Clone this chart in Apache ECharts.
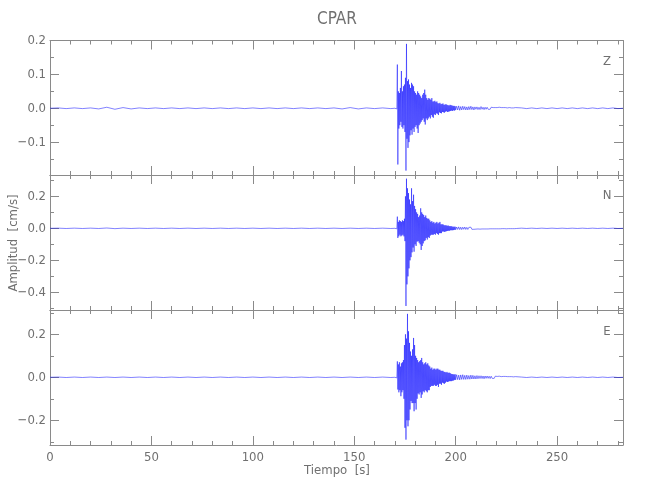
<!DOCTYPE html>
<html>
<head>
<meta charset="utf-8">
<script src="https://cdn.jsdelivr.net/npm/echarts@6/dist/echarts.min.js"></script>
<style>html,body{margin:0;padding:0;background:#fff}#c{width:650px;height:500px}</style>
</head>
<body>
<div id="c"></div>
<script>
// ---- axis ranges & ticks ----
const timeMax = 282.5;
const xMajorTicks = [0, 50, 100, 150, 200, 250];
const xMinorTicks = [10,20,30,40,60,70,80,90,110,120,130,140,160,170,180,190,210,220,230,240,260,270,280];
const channelNames = ['Z', 'N', 'E'];
const zRange = [-0.197, 0.2], zMajor = [0.2, 0.1, 0, -0.1], zMinor = [0.15, 0.05, -0.05, -0.15];
const nRange = [-0.51, 0.333], nMajor = [0.2, 0, -0.2, -0.4], nMinor = [0.3, 0.1, -0.1, -0.3, -0.5];
const eRange = [-0.315, 0.313], eMajor = [0.2, 0, -0.2], eMinor = [0.3, 0.1, -0.1, -0.3];

// ---- sampling of the traces (start time, step in s) ----
const preStart = 0, preStep = 4;
const actStart = 170, actStep = 0.25;
const tailStart = 200.5, tailStep = 0.5;
const endStart = 232.5, endStep = 2.5;

// ---- Z component (cm/s) ----
const zPre = [0,0.001,-0.001,0.001,-0.001,0.001,-0.002,0.003,-0.003,0.002,
  -0.002,0.001,-0.001,0.001,-0.001,0.001,-0.001,0.001,-0.001,0.001,
  -0.001,0.001,-0.001,0.001,-0.001,0.001,-0.001,0.001,-0.001,0.001,
  -0.001,0.001,-0.001,0.001,-0.001,0.001,-0.002,0.002,-0.002,0.001,
  -0.001,0.001,-0.001];
const zAct = [0,0.001,-0.001,0.002,-0.002,0.129,-0.166,0.05,-0.06,0.045,
  -0.05,0.06,-0.04,0.11,-0.055,0.05,-0.06,0.065,-0.05,0.07,
  -0.07,0.09,-0.184,0.19,-0.09,0.08,-0.117,0.085,-0.1,0.07,
  -0.08,0.06,-0.065,0.075,-0.078,0.07,-0.06,0.065,-0.07,0.05,
  -0.055,0.045,-0.05,0.04,-0.06,0.05,-0.073,0.045,-0.05,0.04,
  -0.045,0.035,-0.04,0.03,-0.035,0.04,-0.03,0.045,-0.04,0.055,
  -0.048,0.04,-0.03,0.03,-0.035,0.025,-0.03,0.03,-0.025,0.028,
  -0.03,0.025,-0.02,0.03,-0.025,0.02,-0.028,0.02,-0.018,0.022,
  -0.02,0.018,-0.015,0.02,-0.016,0.015,-0.02,0.014,-0.012,0.016,
  -0.014,0.012,-0.015,0.013,-0.011,0.014,-0.012,0.01,-0.013,0.011,
  -0.01,0.012,-0.009,0.01,-0.011,0.009,-0.01,0.008,-0.009,0.01,
  -0.008,0.009,-0.007,0.008,-0.008,0.007,-0.006,0.007,-0.007,0.006,
  -0.005];
const zTail = [0.006,-0.005,0.007,-0.006,0.005,-0.005,0.006,-0.004,0.005,-0.005,
  0.004,-0.005,0.005,-0.004,0.006,-0.004,0.004,-0.005,0.004,-0.003,
  0.004,-0.004,0.003,-0.004,0.005,-0.003,0.003,-0.004,0.003,-0.003,
  0.003,-0.003,0.002,-0.003,0.003,-0.002,0.002,-0.003,0.002,-0.002,
  0.002,-0.002,0.003,-0.002,0.002,-0.002,0.002,-0.001,0.002,-0.002,
  0.001,-0.002,0.002,-0.001,0.001,-0.002,0.001,-0.001,0.002,-0.001];
const zEnd = [0.001,-0.001,0.001,-0.001,0.001,-0.001,0.001,-0.001,0.001,-0.001,
  0.001,-0.001,0.001,-0.001,0.001,-0.001,0.001,-0.001,0.001,-0.001,0];

// ---- N component (cm/s) ----
const nPre = [0,0.001,-0.001,0.001,-0.001,0.001,-0.001,0.002,-0.002,0.001,
  -0.001,0.001,-0.001,0.001,-0.001,0.001,-0.001,0.001,-0.001,0.001,
  -0.001,0.001,-0.001,0.001,-0.001,0.001,-0.001,0.001,-0.001,0.001,
  -0.001,0.001,-0.001,0.001,-0.001,0.001,-0.001,0.001,-0.001,0.001,
  -0.001,0.001,-0.001];
const nAct = [0,0.002,-0.002,0.003,-0.003,0.073,-0.06,0.04,-0.05,0.05,
  -0.04,0.045,-0.05,0.04,-0.045,0.05,-0.04,0.045,-0.05,0.06,
  -0.08,0.2,-0.485,0.31,-0.35,0.25,-0.3,0.22,-0.25,0.18,
  -0.2,0.15,-0.18,0.25,-0.15,0.17,-0.12,0.21,-0.146,0.14,
  -0.1,0.12,-0.11,0.1,-0.083,0.09,-0.08,0.07,-0.09,0.08,
  -0.1,0.125,-0.135,0.1,-0.11,0.09,-0.094,0.083,-0.08,0.07,
  -0.075,0.08,-0.06,0.065,-0.07,0.06,-0.055,0.06,-0.06,0.05,
  -0.045,0.04,-0.04,0.045,-0.04,0.035,-0.04,0.04,-0.035,0.03,
  -0.04,0.035,-0.03,0.04,-0.035,0.03,-0.04,0.035,-0.03,0.04,
  -0.03,0.025,-0.03,0.025,-0.02,0.025,-0.02,0.02,-0.022,0.018,
  -0.02,0.02,-0.018,0.015,-0.016,0.018,-0.015,0.014,-0.015,0.013,
  -0.012,0.014,-0.012,0.011,-0.012,0.01,-0.011,0.01,-0.009,0.01,
  -0.009];
const nTail = [0.008,-0.007,0.009,-0.008,0.007,-0.008,0.007,-0.006,0.008,-0.007,
  0.006,-0.007,0.006,-0.005,0.007,-0.006,0.005,-0.006,0.005,-0.005,
  0.005,-0.004,0.005,-0.005,0.004,-0.004,0.005,-0.004,0.004,-0.004,
  0.003,-0.004,0.004,-0.003,0.004,-0.003,0.003,-0.003,0.004,-0.003,
  0.003,-0.003,0.002,-0.003,0.003,-0.002,0.003,-0.002,0.002,-0.003,
  0.002,-0.002,0.002,-0.002,0.002,-0.002,0.001,-0.002,0.002,-0.001];
const nEnd = [0.001,-0.001,0.001,-0.001,0.001,-0.001,0.001,-0.001,0.001,-0.001,
  0.001,-0.001,0.001,-0.001,0.001,-0.001,0.001,-0.001,0.001,-0.001,0];

// ---- E component (cm/s) ----
const ePre = [0,0.001,-0.001,0.001,-0.001,0.001,-0.001,0.001,-0.001,0.001,
  -0.001,0.001,-0.001,0.001,-0.001,0.001,-0.001,0.001,-0.001,0.001,
  -0.001,0.001,-0.001,0.001,-0.001,0.001,-0.001,0.001,-0.001,0.001,
  -0.001,0.001,-0.001,0.001,-0.001,0.001,-0.001,0.001,-0.001,0.001,
  -0.001,0.001,-0.001];
const eAct = [0,0.002,-0.002,0.003,-0.003,0.074,-0.057,0.06,-0.07,0.07,
  -0.06,0.05,-0.088,0.065,-0.07,0.07,-0.06,0.08,-0.1,0.15,
  -0.235,0.2,-0.29,0.18,-0.2,0.295,-0.228,0.214,-0.2,0.16,
  -0.15,0.12,-0.11,0.1,-0.12,0.13,-0.12,0.183,-0.158,0.15,
  -0.12,0.1,-0.15,0.09,-0.1,0.08,-0.075,0.07,-0.08,0.075,
  -0.07,0.08,-0.096,0.09,-0.08,0.07,-0.065,0.06,-0.07,0.065,
  -0.06,0.07,-0.065,0.06,-0.07,0.065,-0.06,0.055,-0.06,0.05,
  -0.045,0.04,-0.04,0.045,-0.04,0.035,-0.04,0.04,-0.035,0.04,
  -0.04,0.035,-0.04,0.04,-0.035,0.04,-0.045,0.035,-0.03,0.035,
  -0.03,0.03,-0.035,0.03,-0.025,0.03,-0.028,0.025,-0.03,0.025,
  -0.025,0.022,-0.02,0.025,-0.022,0.02,-0.02,0.022,-0.018,0.02,
  -0.018,0.016,-0.018,0.015,-0.016,0.014,-0.015,0.013,-0.012,0.014,
  -0.012];
const eTail = [0.012,-0.011,0.01,-0.012,0.011,-0.01,0.012,-0.01,0.009,-0.01,
  0.01,-0.009,0.008,-0.009,0.01,-0.008,0.009,-0.008,0.007,-0.008,
  0.008,-0.007,0.007,-0.006,0.007,-0.006,0.006,-0.007,0.006,-0.005,
  0.006,-0.005,0.005,-0.006,0.005,-0.005,0.004,-0.005,0.005,-0.004,
  0.004,-0.004,0.005,-0.004,0.003,-0.004,0.004,-0.003,0.004,-0.003,
  0.003,-0.003,0.003,-0.002,0.003,-0.003,0.002,-0.002,0.003,-0.002];
const eEnd = [0.001,-0.001,0.001,-0.001,0.001,-0.001,0.001,-0.001,0.001,-0.001,
  0.001,-0.001,0.001,-0.001,0.001,-0.001,0.001,-0.001,0.001,-0.001,0];

// ---- build ----
function seg(t0, dt, vals) { return vals.map((v, k) => [t0 + k * dt, v]); }
function trace(pre, act, tail, end) {
  return [].concat(seg(preStart, preStep, pre), seg(actStart, actStep, act),
                   seg(tailStart, tailStep, tail), seg(endStart, endStep, end));
}
const traces = [trace(zPre, zAct, zTail, zEnd), trace(nPre, nAct, nTail, nEnd), trace(ePre, eAct, eTail, eEnd)];
const ranges = [zRange, nRange, eRange];
const majors = [zMajor, nMajor, eMajor];
const minors = [zMinor, nMinor, eMinor];

const FONT = "'Liberation Sans Narrow', 'DejaVu Sans Condensed', 'Liberation Sans', sans-serif";
const AX = '#8a8a8a';
const TX = '#707070';
const gridTops = [40.5, 175, 310];
const gridH = [134.5, 135, 135];

const grids = [], xAxes = [], yAxes = [], series = [];
function fmt(v) {
  const s = Math.abs(v) < 1e-9 ? '0.0' : v.toFixed(1);
  return s.replace('-', '\u2212');
}
for (let i = 0; i < 3; i++) {
  grids.push({ left: 50, right: 27, top: gridTops[i], height: gridH[i], show: false });
  ['bottom', 'top'].forEach(pos => {
    xAxes.push({
      type: 'value', gridIndex: i, position: pos, min: 0, max: timeMax,
      axisLine: { show: true, onZero: false, lineStyle: { color: AX, width: 1 } },
      axisTick: { show: true, inside: true, length: 9, customValues: xMajorTicks, lineStyle: { color: AX } },
      axisLabel: { show: (i === 2 && pos === 'bottom'), customValues: xMajorTicks, color: TX,
                   fontFamily: FONT, fontSize: 13, margin: 6 },
      splitLine: { show: false }
    });
    xAxes.push({
      type: 'value', gridIndex: i, position: pos, min: 0, max: timeMax,
      axisLine: { show: false, onZero: false },
      axisTick: { show: true, inside: true, length: 4, customValues: xMinorTicks, lineStyle: { color: AX } },
      axisLabel: { show: false },
      splitLine: { show: false }
    });
  });
  ['left', 'right'].forEach(pos => {
    yAxes.push({
      type: 'value', gridIndex: i, position: pos, min: ranges[i][0], max: ranges[i][1],
      axisLine: { show: true, onZero: false, lineStyle: { color: AX, width: 1 } },
      axisTick: { show: true, inside: true, length: 9, customValues: majors[i], lineStyle: { color: AX } },
      axisLabel: { show: pos === 'left', customValues: majors[i], color: TX, fontFamily: FONT,
                   fontSize: 13, margin: 4, formatter: fmt },
      splitLine: { show: false }
    });
    yAxes.push({
      type: 'value', gridIndex: i, position: pos, min: ranges[i][0], max: ranges[i][1],
      axisLine: { show: false, onZero: false },
      axisTick: { show: true, inside: true, length: 4, customValues: minors[i], lineStyle: { color: AX } },
      axisLabel: { show: false },
      splitLine: { show: false }
    });
  });
  series.push({
    type: 'line', xAxisIndex: 4 * i, yAxisIndex: 4 * i, data: traces[i],
    showSymbol: false, symbol: 'none', sampling: null, clip: true, animation: false,
    lineStyle: { color: '#0000ff', width: 0.55, opacity: 0.9 }
  });
}

const labelY = [62, 196, 332];
const graphics = channelNames.map((n, i) => ({
  type: 'text', x: 607, y: labelY[i],
  style: { text: n, fill: TX, font: '13px ' + FONT, align: 'center', verticalAlign: 'middle' }
}));
graphics.push({
  type: 'text', x: 14, y: 243, rotation: Math.PI / 2,
  style: { text: 'Amplitud  [cm/s]', fill: TX, font: '13px ' + FONT, align: 'center', verticalAlign: 'middle' }
});
graphics.push({
  type: 'text', x: 337, y: 471,
  style: { text: 'Tiempo  [s]', fill: TX, font: '13px ' + FONT, align: 'center', verticalAlign: 'middle' }
});
graphics.push({
  type: 'text', x: 337, y: 20,
  style: { text: 'CPAR', fill: TX, font: '17px ' + FONT, align: 'center', verticalAlign: 'middle' }
});

const chart = echarts.init(document.getElementById('c'), null, { renderer: 'canvas' });
chart.setOption({
  animation: false,
  backgroundColor: '#ffffff',
  grid: grids, xAxis: xAxes, yAxis: yAxes, series: series, graphic: graphics
});
</script>
</body>
</html>
